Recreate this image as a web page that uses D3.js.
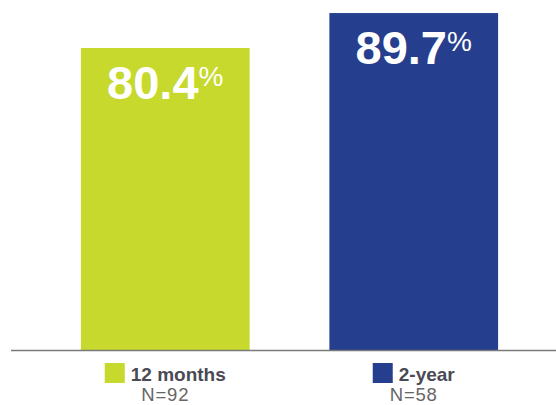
<!DOCTYPE html>
<meta charset="utf-8">
<script src="https://d3js.org/d3.v7.min.js"></script>
<style>
  body { margin: 0; background: #fff; }
  text { font-family: "Liberation Sans", Arial, sans-serif; }
</style>
<div id="chart"></div>
<script>
  // chart data
  var categories = ["12 months", "2-year"];
  var values = [80.4, 89.7];
  var counts = ["N=92", "N=58"];
  var colors = ["#c6d92c", "#263e8e"];

  var width = 556, height = 405;
  var baseline = 350.5;

  var svg = d3.select("#chart")
    .append("svg")
    .attr("width", width)
    .attr("height", height);

  var x = d3.scaleBand()
    .domain(categories)
    .range([41, 538])
    .paddingInner(0.321)
    .paddingOuter(0.1606);

  var y = d3.scaleLinear()
    .domain([0, 93.17])
    .range([baseline, 0]);

  // bars
  svg.selectAll("rect.bar")
    .data(categories)
    .enter()
    .append("rect")
    .attr("class", "bar")
    .attr("x", function (d) { return x(d); })
    .attr("y", function (d, i) { return y(values[i]); })
    .attr("width", x.bandwidth())
    .attr("height", function (d, i) { return baseline - y(values[i]); })
    .attr("fill", function (d, i) { return colors[i]; });

  // value labels, centred in each bar with a small superscript %
  categories.forEach(function (c, i) {
    var cx = x(c) + x.bandwidth() / 2;
    var top = y(values[i]);
    var t = svg.append("text")
      .attr("x", cx)
      .attr("y", top + 51)
      .attr("fill", "#fff")
      .attr("text-anchor", "middle");
    t.append("tspan")
      .attr("font-size", 47)
      .attr("font-weight", "bold")
      .text(values[i].toFixed(1));
    t.append("tspan")
      .attr("font-size", 28)
      .attr("dy", -13)
      .text("%");
  });

  // axis line
  svg.append("line")
    .attr("x1", 11)
    .attr("x2", width)
    .attr("y1", baseline)
    .attr("y2", baseline)
    .attr("stroke", "#7a7a7a")
    .attr("stroke-width", 1.3);

  // legend under each bar
  categories.forEach(function (c, i) {
    var cx = x(c) + x.bandwidth() / 2;
    var g = svg.append("g");
    var label = g.append("text")
      .attr("y", 381)
      .attr("font-size", 19)
      .attr("font-weight", "bold")
      .attr("fill", "#4a4a55")
      .text(c);
    var w = label.node().getComputedTextLength();
    var total = 20 + 6 + w;
    var left = cx - total / 2;
    g.append("rect")
      .attr("x", left)
      .attr("y", 363)
      .attr("width", 20)
      .attr("height", 20)
      .attr("fill", colors[i]);
    label.attr("x", left + 26);

    svg.append("text")
      .attr("x", cx)
      .attr("y", 401)
      .attr("text-anchor", "middle")
      .attr("font-size", 18.5)
      .attr("letter-spacing", 0.8)
      .attr("fill", "#666")
      .text(counts[i]);
  });
</script>
